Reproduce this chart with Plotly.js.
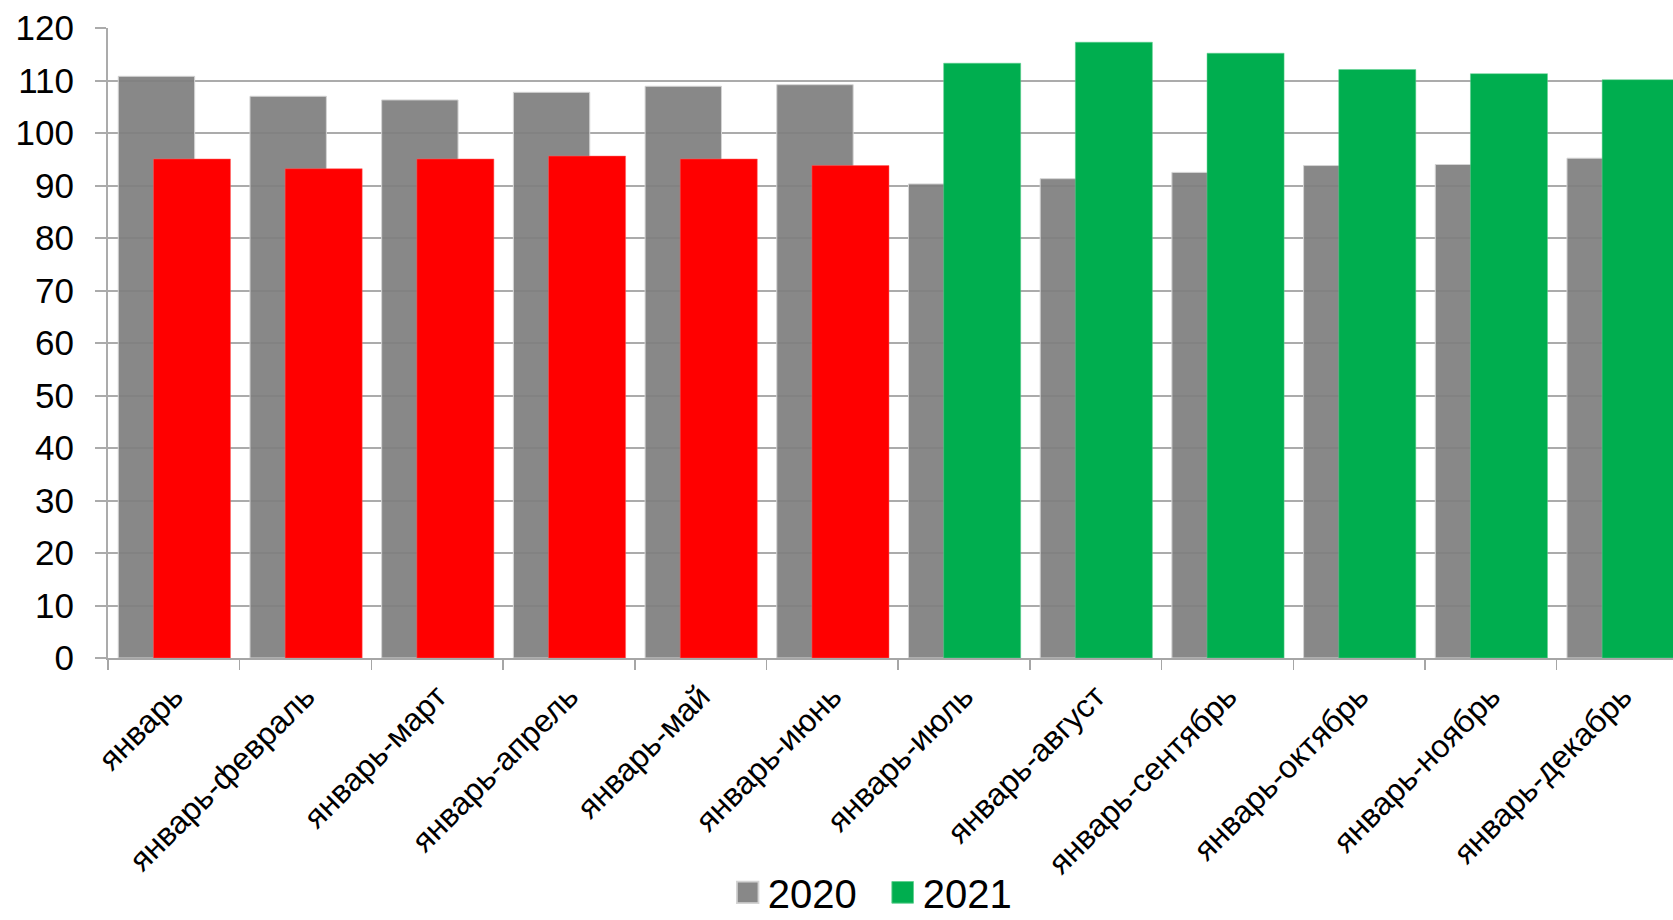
<!DOCTYPE html>
<html>
<head>
<meta charset="utf-8">
<script src="https://cdn.plot.ly/plotly-3.0.1.min.js"></script>
<style>
  html, body { margin: 0; padding: 0; background: #ffffff; }
  #chart { width: 1673px; height: 920px; }
</style>
</head>
<body>
<div id="chart"></div>
<script>
const categories = [
  "январь", "январь-февраль", "январь-март", "январь-апрель", "январь-май", "январь-июнь",
  "январь-июль", "январь-август", "январь-сентябрь", "январь-октябрь", "январь-ноябрь", "январь-декабрь"
];
const values2020 = [110.8, 107.0, 106.3, 107.75, 108.9, 109.2, 90.3, 91.3, 92.5, 93.8, 94.0, 95.2];
const values2021 = [95.05, 93.2, 95.05, 95.6, 95.05, 93.8, 113.3, 117.3, 115.2, 112.1, 111.3, 110.15];
const yTicks = [0, 10, 20, 30, 40, 50, 60, 70, 80, 90, 100, 110, 120];
const splitIndex = 6;

const FONT = "Liberation Sans, Arial, sans-serif";

const traces = [
  {
    type: "bar",
    name: "2020",
    x: categories,
    y: values2020,
    width: 0.58,
    offset: -0.422,
    marker: { color: "rgba(126,126,126,0.92)", line: { color: "#d4d4d4", width: 1 } },
    hoverinfo: "x+y+name"
  },
  {
    type: "bar",
    name: "2021",
    showlegend: false,
    x: categories.slice(0, splitIndex),
    y: values2021.slice(0, splitIndex),
    width: 0.585,
    offset: -0.155,
    marker: { color: "#ff0000", line: { color: "#ff6060", width: 0.5 } },
    hoverinfo: "x+y+name"
  },
  {
    type: "bar",
    name: "2021",
    x: categories.slice(splitIndex),
    y: values2021.slice(splitIndex),
    width: 0.585,
    offset: -0.155,
    marker: { color: "#00ae4f", line: { color: "#60d090", width: 0.5 } },
    hoverinfo: "x+y+name"
  }
];

const layout = {
  width: 1673,
  height: 920,
  margin: { l: 108, r: 0, t: 28, b: 262, autoexpand: false },
  paper_bgcolor: "#ffffff",
  plot_bgcolor: "#ffffff",
  barmode: "overlay",
  font: { family: FONT, color: "#000000" },
  xaxis: {
    type: "category",
    categoryorder: "array",
    categoryarray: categories,
    range: [-0.5, 11.383],
    automargin: false,
    tickson: "boundaries",
    ticks: "outside",
    ticklen: 10,
    tickwidth: 1.5,
    tickcolor: "#a6a6a6",
    showline: true,
    linecolor: "#a6a6a6",
    linewidth: 2,
    showgrid: false,
    tickangle: -45,
    tickfont: { family: FONT, size: 32, color: "#000000" },
    ticklabelstandoff: 5,
    fixedrange: true
  },
  yaxis: {
    range: [0, 120],
    automargin: false,
    tickvals: yTicks,
    ticktext: yTicks.map(String),
    ticks: "outside",
    ticklen: 11,
    tickwidth: 2,
    tickcolor: "#ababab",
    showline: true,
    linecolor: "#ababab",
    linewidth: 2,
    showgrid: true,
    gridcolor: "#ababab",
    gridwidth: 2,
    zeroline: false,
    tickfont: { family: FONT, size: 35, color: "#000000" },
    ticklabelstandoff: 14,
    fixedrange: true
  },
  showlegend: true,
  legend: {
    orientation: "h",
    x: 0.495,
    xanchor: "center",
    y: -0.372,
    yanchor: "middle",
    entrywidth: 110,
    entrywidthmode: "pixels",
    font: { family: FONT, size: 40, color: "#000000" },
    bgcolor: "rgba(0,0,0,0)",
    itemclick: false,
    itemdoubleclick: false
  }
};

Plotly.newPlot("chart", traces, layout, { displayModeBar: false, staticPlot: true }).then(function (gd) {
  // enlarge legend swatches to match the reference's larger squares
  gd.querySelectorAll(".legendpoints path").forEach(function (p) {
    const t = p.getAttribute("transform") || "";
    p.setAttribute("transform", t + " scale(1.8)");
  });
});
</script>
</body>
</html>
